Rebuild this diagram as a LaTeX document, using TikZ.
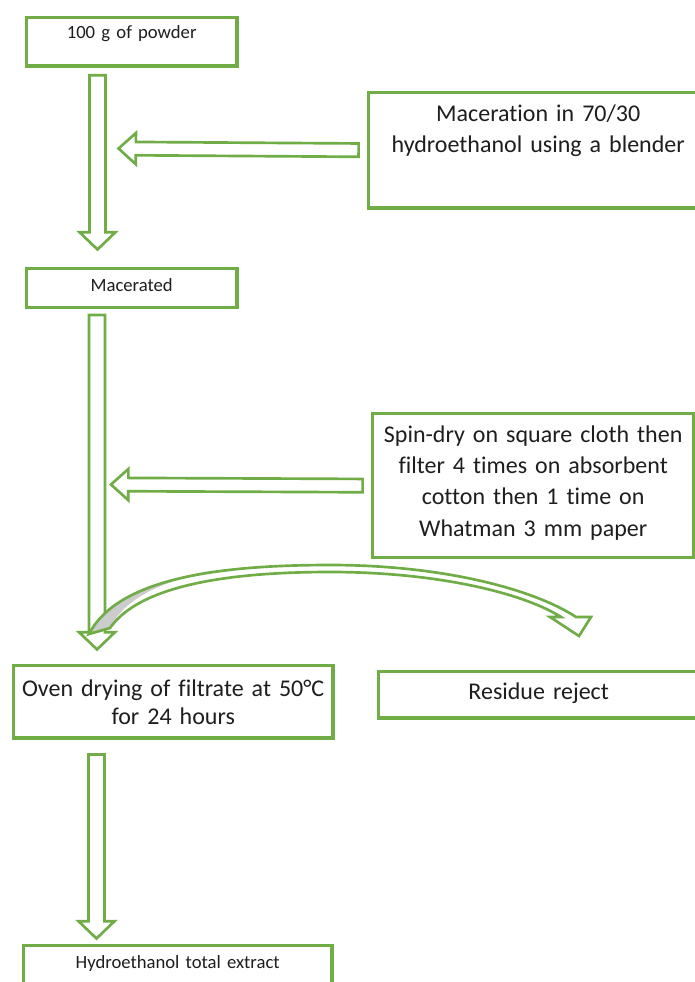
\documentclass[tikz,border=0pt]{standalone}
\usepackage{fontspec}
\setmainfont{Carlito}[Ligatures={NoCommon}]
\usepackage{tikz}
\usetikzlibrary{calc}

\definecolor{leafgreen}{RGB}{112,173,71}
\definecolor{shadegray}{RGB}{204,204,204}
\definecolor{inkgray}{RGB}{30,30,30}

% hollow block arrow from #1 to the tip #2, shaft half width #3, head half width #4
\newcommand{\hollowarrow}[4]{%
  \coordinate (hb) at ($(#2)!13pt!(#1)$);
  \draw [blockarrow] ($(#1)!#3!90:(#2)$) -- ($(hb)!#3!90:(#2)$) -- ($(hb)!#4!90:(#2)$) -- (#2)
    -- ($(hb)!#4!-90:(#2)$) -- ($(hb)!#3!-90:(#2)$) -- ($(#1)!#3!-90:(#2)$) -- cycle ;
}

\begin{document}
\begin{tikzpicture}[x=0.75pt,y=0.75pt,yscale=-1,xscale=1,
  box/.style={draw=leafgreen, line width=2.5pt, fill=white, inner sep=0pt, anchor=north west, align=center, text=inkgray},
  small/.style={font=\fontsize{14pt}{17pt}\selectfont},
  large/.style={font=\fontsize{18pt}{23.5pt}\selectfont},
  blockarrow/.style={draw=leafgreen, line width=2pt, fill=white, miter limit=4}]
\clip (0,0) rectangle (695,982);

%Shape: Rectangle [id:powder] 
\node [box, small, text width=158.1pt, text height=16pt, text depth=20.6pt] (powder) at (24.6,15.6) {100 g of powder};
%Shape: Rectangle [id:maceration] 
\node [box, large, text width=254.9pt, text height=22pt, text depth=64.8pt] (maceration) at (366.6,90.6) {Maceration in 70/30\\hydroethanol using a blender};
%Shape: Rectangle [id:macerated] 
\node [box, small, text width=158.1pt, text height=17.6pt, text depth=11.6pt] (macerated) at (24.6,266.6) {Macerated};
%Shape: Rectangle [id:spindry] 
\node [box, large, text width=241.4pt, text height=21.3pt, text depth=86.6pt] (spindry) at (370.6,412) {Spin-dry on square cloth then\\filter 4 times on absorbent\\cotton then 1 time on\\Whatman 3 mm paper};
%Shape: Rectangle [id:oven] 
\node [box, font=\fontsize{18pt}{21pt}\selectfont, text width=239.9pt, text height=23.6pt, text depth=31pt] (oven) at (11.6,663.6) {Oven drying of filtrate at 50°C\\for 24 hours};
%Shape: Rectangle [id:residue] 
\node [box, large, text width=240.6pt, text height=21.3pt, text depth=13.8pt] (residue) at (376.6,669.6) {Residue reject};
%Shape: Rectangle [id:extract] 
\node [box, small, text width=231.6pt, text height=17.6pt, text depth=30pt] (extract) at (21.6,943.6) {Hydroethanol total extract};

% arrow ends
\coordinate (a1s) at (97.5,75.3);
\coordinate (a1t) at (97.5,249.5);
\coordinate (a2s) at (97,315);
\coordinate (a2t) at (97,649.5);
\coordinate (a3s) at (96.5,754.5);
\coordinate (a3t) at (96.5,938.5);
\coordinate (h1t) at (118.5,148.5);
\coordinate (h2t) at (111,484.5);

%Block Arrows
\hollowarrow{a1s}{a1t}{6pt}{13.5pt}
\hollowarrow{[xshift=-6pt]maceration.west}{h1t}{5pt}{11.7pt}
\hollowarrow{a2s}{a2t}{6pt}{13.5pt}
\hollowarrow{[xshift=-6pt]spindry.west}{h2t}{5pt}{11.7pt}
\hollowarrow{a3s}{a3t}{6pt}{13.5pt}

%Curved Arrow [id:reject] 
\fill [white] (89,634) .. controls (118,578) and (220,565) .. (330,565) .. controls (445,565) and (535,590) .. (576,617) -- (591,617) -- (579,636) -- (550,617) -- (561,617) .. controls (525,594) and (440,572) .. (330,572) .. controls (230,572) and (140,585) .. (110,628) -- cycle ;
\fill [shadegray] (89,634) .. controls (106,601) and (145,582) .. (215,570) .. controls (160,582) and (125,598) .. (110,628) -- cycle ;
\draw [blockarrow, fill=none] (89,634) .. controls (118,578) and (220,565) .. (330,565) .. controls (445,565) and (535,590) .. (576,617) -- (591,617) -- (579,636) -- (550,617) -- (561,617) .. controls (525,594) and (440,572) .. (330,572) .. controls (230,572) and (140,585) .. (110,628) -- cycle ;

\end{tikzpicture}
\end{document}
